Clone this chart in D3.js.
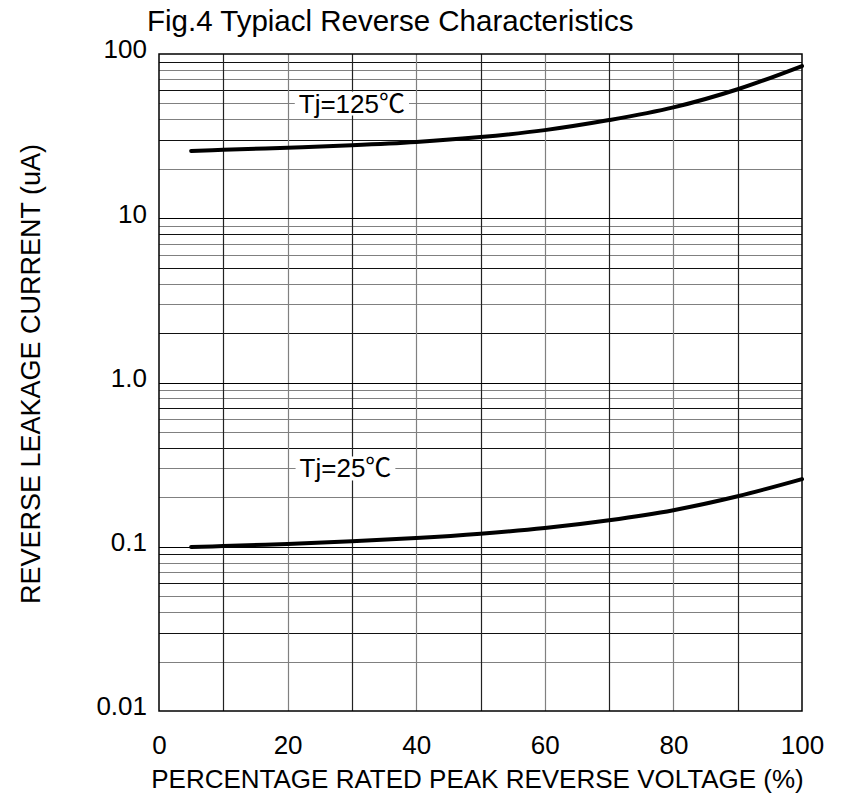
<!DOCTYPE html>
<html>
<head>
<meta charset="utf-8">
<script src="https://cdn.jsdelivr.net/npm/d3@7"></script>
<style>
  body { margin: 0; background: #fff; }
  text { font-family: "Liberation Sans", Arial, "Noto Sans CJK SC", sans-serif; fill: #000; }
</style>
</head>
<body>
<svg width="852" height="795"></svg>
<script>
// values
const pctVoltage = [5, 10, 20, 30, 40, 50, 60, 70, 80, 90, 100];
const leak125 = [25.7, 26.1, 26.9, 27.8, 29.1, 31.2, 34.4, 39.6, 47.3, 61.0, 84.5];
const leak25 = [0.0996, 0.101, 0.104, 0.108, 0.113, 0.120, 0.130, 0.145, 0.167, 0.203, 0.258];

const xTicks = [0, 20, 40, 60, 80, 100];
const yTicks = [0.01, 0.1, 1, 10, 100];
const yTickLabels = ["0.01", "0.1", "1.0", "10", "100"];

const curves = [
    { label: "Tj=125℃", values: leak125, at: [30, 50] },
    { label: "Tj=25℃", values: leak25, at: [29, 0.3] }
];

const svg = d3.select("svg"),
    margin = { top: 54, right: 50, bottom: 84, left: 159 },
    width = +svg.attr("width") - margin.left - margin.right,
    height = +svg.attr("height") - margin.top - margin.bottom;

const x = d3.scaleLinear().domain([0, 100]).range([0, width]);
const y = d3.scaleLog().domain([0.01, 100]).range([height, 0]);

const g = svg.append("g")
    .attr("transform", `translate(${margin.left},${margin.top})`);

// grid: minor log lines, then decades
const minor = [];
[0.01, 0.1, 1, 10].forEach(d => d3.range(2, 10).forEach(k => minor.push(k * d)));

g.append("g").selectAll("line")
    .data(minor)
    .enter().append("line")
    .attr("x1", 0).attr("x2", width)
    .attr("y1", d => Math.round(y(d)) + 0.5).attr("y2", d => Math.round(y(d)) + 0.5)
    .attr("stroke", (d, i) => i % 3 === 1 ? "#111" : "#808080")
    .attr("stroke-width", 1.2);

g.append("g").selectAll("line")
    .data(d3.range(10, 100, 10))
    .enter().append("line")
    .attr("y1", 0).attr("y2", height)
    .attr("x1", d => Math.round(x(d)) + 0.5).attr("x2", d => Math.round(x(d)) + 0.5)
    .attr("stroke", (d, i) => i % 2 ? "#808080" : "#222")
    .attr("stroke-width", 1.2);

g.append("g").selectAll("line")
    .data(yTicks.slice(1, -1))
    .enter().append("line")
    .attr("x1", 0).attr("x2", width)
    .attr("y1", d => Math.round(y(d)) + 0.5).attr("y2", d => Math.round(y(d)) + 0.5)
    .attr("stroke", "#000")
    .attr("stroke-width", 1.2);

g.append("rect")
    .attr("width", width).attr("height", height)
    .attr("fill", "none")
    .attr("stroke", "#000")
    .attr("stroke-width", 1.5);

// axes (labels only, the frame is drawn above)
const xAxis = g.append("g")
    .attr("transform", `translate(0,${height})`)
    .call(d3.axisBottom(x).tickValues(xTicks).tickSize(0).tickPadding(25));
const yAxis = g.append("g")
    .call(d3.axisLeft(y).tickValues(yTicks).tickFormat((d, i) => yTickLabels[i]).tickSize(0).tickPadding(12));
[xAxis, yAxis].forEach(a => {
    a.select(".domain").remove();
    a.selectAll("text").style("font-size", "26px").attr("fill", "#000");
});
yAxis.selectAll("text").attr("dy", "0.15em");
xAxis.selectAll("text").attr("dy", "0.71em");

// curves
const line = d3.line()
    .x((d, i) => x(pctVoltage[i]))
    .y(d => y(d))
    .curve(d3.curveCatmullRom.alpha(0.5));

const labels = g.append("g");

curves.forEach(c => {
    g.append("path")
        .datum(c.values)
        .attr("fill", "none")
        .attr("stroke", "#000")
        .attr("stroke-width", 4)
        .attr("stroke-linecap", "round")
        .attr("d", line);

    const lg = labels.append("g");
    const bg = lg.append("rect").attr("fill", "#fff");
    const t = lg.append("text")
        .attr("x", x(c.at[0]))
        .attr("y", y(c.at[1]))
        .attr("dy", "0.35em")
        .attr("text-anchor", "middle")
        .style("font-size", "26px")
        .text(c.label);
    const b = t.node().getBBox();
    bg.attr("x", b.x - 4).attr("y", b.y + 3)
        .attr("width", b.width + 8).attr("height", b.height - 6);
});

// titles
svg.append("text")
    .attr("x", 147).attr("y", 31)
    .style("font-size", "29.5px")
    .text("Fig.4 Typiacl Reverse Characteristics");

svg.append("text")
    .attr("x", margin.left + width / 2 - 3).attr("y", 788)
    .attr("text-anchor", "middle")
    .style("font-size", "26px")
    .text("PERCENTAGE RATED PEAK REVERSE VOLTAGE (%)");

svg.append("text")
    .attr("transform", "translate(40,374) rotate(-90)")
    .attr("text-anchor", "middle")
    .style("font-size", "27px")
    .text("REVERSE LEAKAGE CURRENT (uA)");
</script>
</body>
</html>
